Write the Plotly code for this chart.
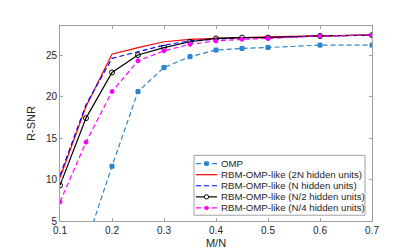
import plotly.graph_objects as go

x = [0.1, 0.15, 0.2, 0.25, 0.3, 0.35, 0.4, 0.45, 0.5, 0.6, 0.7]
omp = [-4.0, 2.2, 11.6, 20.6, 23.5, 24.8, 25.6, 25.8, 25.9, 26.2, 26.2]
rbm_2n = [10.2, 18.8, 25.1, 25.9, 26.6, 26.9, 27.0, 27.1, 27.2, 27.3, 27.4]
rbm_n = [10.5, 19.0, 24.6, 25.4, 26.2, 26.7, 26.9, 27.1, 27.1, 27.3, 27.4]
rbm_n2 = [9.3, 17.4, 22.9, 25.0, 25.9, 26.6, 27.0, 27.1, 27.1, 27.3, 27.4]
rbm_n4 = [7.3, 14.5, 20.6, 24.3, 25.5, 26.3, 26.7, 26.9, 27.0, 27.3, 27.4]
names = ["OMP", "RBM-OMP-like (2N hidden units)", "RBM-OMP-like (N hidden units)",
         "RBM-OMP-like (N/2 hidden units)", "RBM-OMP-like (N/4 hidden units)"]

FONT = "Liberation Sans, Arial"
TXT = "#262626"
AX = "#a0a0a0"
DASH = "5px,3px"

styles = [
    dict(color="#2a85cc", dash=DASH, symbol="square", size=4),
    dict(color="#ff0000", dash="solid", symbol=None, size=0),
    dict(color="#0000ff", dash=DASH, symbol=None, size=0),
    dict(color="#000000", dash="solid", symbol="circle-open", size=5),
    dict(color="#ff00ff", dash=DASH, symbol="circle", size=4),
]
series = [omp, rbm_2n, rbm_n, rbm_n2, rbm_n4]

fig = go.Figure()
for ys, st, nm in zip(series, styles, names):
    if st["symbol"]:
        fig.add_trace(go.Scatter(x=x, y=ys, name=nm, mode="lines+markers",
                                 line=dict(color=st["color"], width=1.2, dash=st["dash"]),
                                 marker=dict(symbol=st["symbol"], size=st["size"], color=st["color"],
                                             line=dict(width=1, color=st["color"]))))
    else:
        fig.add_trace(go.Scatter(x=x, y=ys, name=nm, mode="lines",
                                 line=dict(color=st["color"], width=1.2, dash=st["dash"])))

# plot area in pixels
L, R, T, B = 52, 364, 18, 220
def px(v):
    return (v - L) / (R - L)
def py(v):
    return (B - v) / (B - T)

# custom compact legend (MATLAB-like)
shapes = [dict(type="rect", xref="paper", yref="paper", x0=px(186), x1=px(357), y0=py(214), y1=py(152),
               line=dict(color=AX, width=1), fillcolor="white", layer="above")]
annotations = []
row_y = [160.5, 172.0, 183.5, 195.0, 206.5]
for yy, st, nm in zip(row_y, styles, names):
    shapes.append(dict(type="line", xref="paper", yref="paper", x0=px(188), x1=px(209), y0=py(yy), y1=py(yy),
                       line=dict(color=st["color"], width=1.2, dash=st["dash"]),
                       layer="above"))
    if st["symbol"]:
        r = 2.2 if st["symbol"] == "circle-open" else 1.8
        stype = "rect" if st["symbol"] == "square" else "circle"
        fill = "white" if st["symbol"] == "circle-open" else st["color"]
        shapes.append(dict(type=stype, xref="paper", yref="paper", x0=px(198.5 - r), x1=px(198.5 + r),
                           y0=py(yy + r), y1=py(yy - r), line=dict(color=st["color"], width=1),
                           fillcolor=fill, layer="above"))
    annotations.append(dict(text=nm, xref="paper", yref="paper", x=px(211), y=py(yy), xanchor="left",
                            yanchor="middle", showarrow=False, font=dict(family=FONT, size=9.7, color=TXT)))

axis_common = dict(showline=True, linecolor=AX, linewidth=1, mirror="ticks",
                   ticks="inside", ticklen=3, tickcolor=AX, showgrid=False,
                   zeroline=False, tickfont=dict(family=FONT, size=10, color=TXT))
fig.update_xaxes(range=[0.1, 0.7], tickvals=[0.1, 0.2, 0.3, 0.4, 0.5, 0.6, 0.7],
                 ticktext=["0.1", "0.2", "0.3", "0.4", "0.5", "0.6", "0.7"],
                 title=dict(text="M/N", font=dict(family=FONT, size=11, color=TXT), standoff=4),
                 **axis_common)
fig.update_yaxes(range=[5, 28.5], tickvals=[5, 10, 15, 20, 25],
                 title=dict(text="R-SNR", font=dict(family=FONT, size=11, color=TXT), standoff=8),
                 **axis_common)
fig.update_layout(width=403, height=252, margin=dict(l=L, r=403 - R, t=T, b=252 - B),
                  plot_bgcolor="white", paper_bgcolor="white", showlegend=False,
                  shapes=shapes, annotations=annotations)
fig.write_html("out.html")
